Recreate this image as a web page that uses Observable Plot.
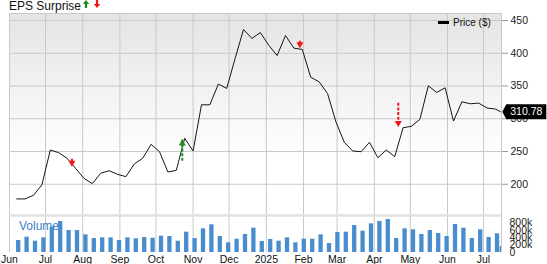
<!DOCTYPE html>
<html><head><meta charset="utf-8">
<script src="https://cdn.jsdelivr.net/npm/d3@7"></script>
<script src="https://cdn.jsdelivr.net/npm/@observablehq/plot@0.6"></script>
<style>
body{margin:0;width:547px;height:264px;overflow:hidden;background:#fff;font-family:"Liberation Sans",Arial,sans-serif}
#wrap{position:relative;width:547px;height:264px}
#wrap > *{position:absolute}
</style></head><body><div id="wrap"></div>
<script>
// ---- data ----
const weekDates = [
 "2024-06-07","2024-06-14","2024-06-21","2024-06-28",
 "2024-07-05","2024-07-12","2024-07-19","2024-07-26",
 "2024-08-02","2024-08-09","2024-08-16","2024-08-23","2024-08-30",
 "2024-09-06","2024-09-13","2024-09-20","2024-09-27",
 "2024-10-04","2024-10-11","2024-10-18","2024-10-25",
 "2024-11-01","2024-11-08","2024-11-15","2024-11-22","2024-11-29",
 "2024-12-06","2024-12-13","2024-12-20","2024-12-27",
 "2025-01-03","2025-01-10","2025-01-17","2025-01-24","2025-01-31",
 "2025-02-07","2025-02-14","2025-02-21","2025-02-28",
 "2025-03-07","2025-03-14","2025-03-21","2025-03-28",
 "2025-04-04","2025-04-11","2025-04-18","2025-04-25",
 "2025-05-02","2025-05-09","2025-05-16","2025-05-23","2025-05-30",
 "2025-06-06","2025-06-13","2025-06-20","2025-06-27",
 "2025-07-04","2025-07-11","2025-07-15"];
const closePrice = [
 177.6,177.6,183.2,199,252.3,248.2,239.6,224.4,209.1,200.9,
 216.8,220.7,215.2,211.6,231,239.6,261,249.7,218.7,221.3,
 270.1,250.8,321.3,321.3,352.9,346.3,392,436.3,422.6,431.7,
 412.3,396.5,427.1,407.8,405.8,363.5,356.4,338.7,295.4,264,
 250.8,249.7,264,240.5,252.3,242.1,286.3,288.5,299.1,350.3,
 340.2,347.3,296.5,325.9,322.9,323.9,316.3,314.8,310.78];
const volume = [
 324000,414000,305000,397000,684000,838000,595000,595000,478000,378000,
 397000,397000,324000,397000,370000,405000,386000,441000,432000,305000,
 549000,378000,641000,749000,432000,262000,359000,486000,657000,297000,
 351000,305000,397000,262000,359000,359000,478000,243000,541000,549000,
 730000,576000,776000,838000,892000,378000,641000,614000,486000,595000,
 514000,432000,757000,657000,378000,614000,405000,505000,162000];
const epsDates = ["2024-07-23","2024-10-23","2025-01-29","2025-04-21"];
const epsDir   = ["down","up","down","down"];
const epsFrom  = [238.1,239.6,418.4,323.5];
const epsTo    = [226.8,268.3,407.8,287.3];
const epsDashed= [false,true,false,true];
const monthTicks = ["2024-06-01","2024-07-01","2024-08-01","2024-09-01","2024-10-01","2024-11-01",
 "2024-12-01","2025-01-01","2025-02-01","2025-03-01","2025-04-01","2025-05-01","2025-06-01","2025-07-01"];
const monthLabels = ["Jun","Jul","Aug","Sep","Oct","Nov","Dec","2025","Feb","Mar","Apr","May","Jun","Jul"];
const priceTicks = [200,250,300,350,400,450];
const volTicks = [0,200000,400000,600000,800000];
const volLabels = ["0","200k","400k","600k","800k"];
const xStart = "2024-06-01", xEnd = "2025-07-16";
const priceDomain = [152.3,460.7];
const volMax = 1000000;
const lastLabel = "310.78";

// ---- build ----
const rows = weekDates.map((d,i)=>({date:new Date(d), price:closePrice[i], volume:volume[i]}));
const eps = epsDates.map((d,i)=>({date:new Date(d), dir:epsDir[i], from:epsFrom[i], to:epsTo[i], dashed:epsDashed[i],
  color: epsDir[i]==="up" ? "#1e8c1e" : "#f21414"}));
const months = monthTicks.map(d=>new Date(d));
const fmtMonth = d => monthLabels[months.findIndex(m=>+m===+d)];
const xDomain = [new Date(xStart), new Date(xEnd)];
const last = [rows[rows.length-1]];
const grid = "#c9c9c9";
const font = '"Liberation Sans",Arial,sans-serif';

const callout = {draw(ctx){ ctx.moveTo(0,0); ctx.lineTo(4,-7.5); ctx.lineTo(44,-7.5); ctx.lineTo(44,7.5); ctx.lineTo(4,7.5); ctx.closePath(); }};

const arrowMarks = [];
for (const dir of ["up","down"]) {
  for (const dashed of [false,true]) {
    const sub = eps.filter(e=>e.dir===dir && e.dashed===dashed);
    if (!sub.length) continue;
    arrowMarks.push(Plot.ruleX(sub,{x:"date",y1:"from",y2:"to",stroke:"color",strokeWidth:2,
      strokeDasharray: dashed ? "3,1.6" : null,
      insetTop: dir==="up"?3:0, insetBottom: dir==="down"?3:0}));
  }
  arrowMarks.push(Plot.dot(eps.filter(e=>e.dir===dir),{x:"date",y:"to",symbol:"triangle",r:2.6,
    fill:"color",rotate: dir==="down"?180:0, dy: dir==="down"?-4:4}));
}

const pricePlot = Plot.plot({
  width:547,height:264,marginLeft:9,marginRight:46,marginTop:13,marginBottom:49,
  style:{background:"transparent",fontFamily:font,color:"#222",overflow:"visible"},
  x:{type:"utc",domain:xDomain,axis:null},
  y:{domain:priceDomain},
  marks:[
    Plot.gridX(months,{stroke:grid,strokeOpacity:1}),
    Plot.gridY(priceTicks,{stroke:grid,strokeOpacity:1}),
    Plot.frame({stroke:grid}),
    Plot.axisY(priceTicks,{anchor:"right",tickSize:6,tickPadding:3,stroke:"#999",fill:"#222",fontSize:10.5,label:null}),
    Plot.lineY(rows,{x:"date",y:"price",stroke:"#151515",strokeWidth:1}),
    ...arrowMarks,
    Plot.dot(last,{x:"date",y:"price",symbol:callout,fill:"#000",dx:2}),
    Plot.text(last,{x:"date",y:"price",text:()=>lastLabel,fill:"#fff",dx:26,fontSize:10.5,textAnchor:"middle"})
  ]
});

const volPlot = Plot.plot({
  width:547,height:264,marginLeft:9,marginRight:46,marginTop:215,marginBottom:12,
  style:{background:"transparent",fontFamily:font,color:"#111"},
  x:{type:"utc",domain:xDomain},
  y:{domain:[0,volMax]},
  marks:[
    Plot.gridX(months,{stroke:grid,strokeOpacity:1}),
    Plot.ruleX([xDomain[1]],{stroke:grid}),
    Plot.ruleX(rows,{x:"date",y1:0,y2:"volume",stroke:"#4a8dcf",strokeWidth:4.3,dx:1.5,clip:true}),
    Plot.ruleY([volMax],{stroke:"#e0e0e0",strokeWidth:2.5}),
    Plot.axisY(volTicks,{anchor:"right",tickSize:0,tickPadding:8,fontSize:10.5,fill:"#222",
      tickFormat:d=>volLabels[volTicks.indexOf(d)],label:null}),
    Plot.axisX(months,{anchor:"bottom",tickSize:0,tickPadding:3,fontSize:10.5,fill:"#111",tickFormat:fmtMonth,label:null})
  ]
});

const wrap = document.getElementById("wrap");
const bg = document.createElement("div");
Object.assign(bg.style,{left:"9px",top:"13px",width:"492px",height:"202px",
  background:"linear-gradient(to bottom,#e4e4e4 0%,#f3f3f3 40%,#ffffff 72%)"});
wrap.appendChild(bg);
pricePlot.style.left="0px"; pricePlot.style.top="0px";
volPlot.style.left="0px"; volPlot.style.top="0px";
wrap.appendChild(pricePlot);
wrap.appendChild(volPlot);

const title = document.createElement("div");
Object.assign(title.style,{left:"9px",top:"0px",fontSize:"12px",lineHeight:"12px",color:"#111",whiteSpace:"nowrap"});
title.textContent = "EPS Surprise";
wrap.appendChild(title);

const icons = document.createElementNS("http://www.w3.org/2000/svg","svg");
icons.setAttribute("width","20"); icons.setAttribute("height","10");
icons.style.left="83px"; icons.style.top="0px";
icons.innerHTML = '<polygon points="3,0 6.2,4 4.1,4 4.1,8 1.9,8 1.9,4 -0.2,4" fill="#1e8c1e"/>'+
  '<polygon points="12.9,0 15.1,0 15.1,4 17.2,4 14,8 10.8,4 12.9,4" fill="#f21414"/>';
wrap.appendChild(icons);

const legSw = document.createElement("div");
Object.assign(legSw.style,{left:"438px",top:"20.5px",width:"11px",height:"3.5px",background:"#000"});
wrap.appendChild(legSw);
const legTx = document.createElement("div");
Object.assign(legTx.style,{left:"453px",top:"17px",fontSize:"10px",lineHeight:"12px",color:"#111",whiteSpace:"nowrap"});
legTx.textContent = "Price ($)";
wrap.appendChild(legTx);

const volTx = document.createElement("div");
Object.assign(volTx.style,{left:"19px",top:"219px",fontSize:"12px",lineHeight:"14px",color:"#3a80c8",whiteSpace:"nowrap"});
volTx.textContent = "Volume";
wrap.appendChild(volTx);
</script></body></html>
